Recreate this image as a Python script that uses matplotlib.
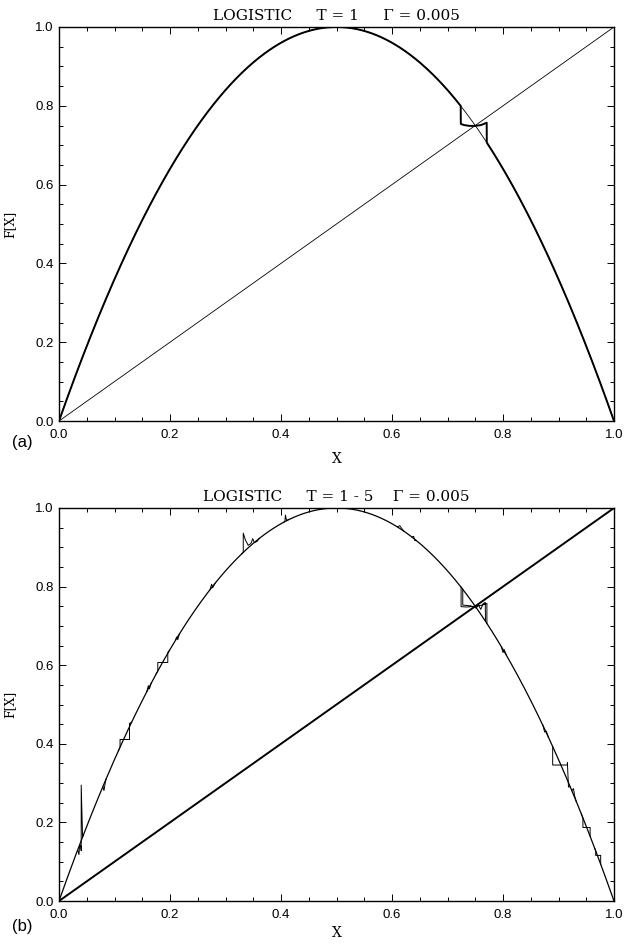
import numpy as np
import matplotlib
matplotlib.use("Agg")
import matplotlib.pyplot as plt
from matplotlib.ticker import MultipleLocator, FormatStrFormatter

# logistic map F[X] = r X (1 - X)
r_logistic = 4.0
x_grid = np.linspace(0.0, 1.0, 801)
f_grid = r_logistic * x_grid * (1.0 - x_grid)

# panel (a): controlled map around the fixed point, T = 1
ctrl_a_x = [0.7238, 0.7240, 0.730, 0.740, 0.750, 0.760, 0.7706, 0.7708]
ctrl_a_y = [0.799, 0.754, 0.751, 0.749, 0.749, 0.751, 0.757, 0.707]

# panel (b): kicks of the controlled maps, T = 1 - 5 (NaN separates pieces)
nan = np.nan
kick_b_x = [0.034, 0.036, 0.037, 0.039, 0.040, 0.040, 0.0425, 0.044, nan,
            0.079, 0.081, 0.083, 0.085, nan,
            0.107, 0.110, 0.110, 0.127, 0.127, 0.131, nan,
            0.158, 0.161, 0.163, 0.166, nan,
            0.175, 0.178, 0.178, 0.196, 0.196, 0.199, nan,
            0.210, 0.212, 0.214, 0.217, nan,
            0.272, 0.275, 0.277, 0.281, nan,
            0.329, 0.332, 0.332, 0.336, 0.341, 0.346, 0.349, 0.352, 0.357, 0.361, nan,
            0.404, 0.407, 0.408, 0.410, 0.414, nan,
            0.610, 0.614, 0.618, 0.622, nan,
            0.636, 0.639, 0.641, 0.644, nan,
            0.7245, 0.7245, 0.735, 0.748, 0.760, 0.771, 0.771, nan,
            0.7275, 0.7275, 0.742, 0.752, 0.755, 0.760, 0.764, 0.768, 0.7685, nan,
            0.797, 0.800, 0.802, 0.806, nan,
            0.872, 0.875, 0.878, 0.882, nan,
            0.8895, 0.8895, 0.916, 0.916, 0.918, 0.921, nan,
            0.924, 0.927, 0.929, 0.932, nan,
            0.941, 0.944, 0.944, 0.957, 0.957, nan,
            0.965, 0.967, 0.967, 0.976, 0.976]
kick_b_y = [0.129, 0.118, 0.140, 0.142, 0.128, 0.295, 0.163, 0.168, nan,
            0.291, 0.281, 0.298, 0.311, nan,
            0.382, 0.392, 0.411, 0.411, 0.452, 0.455, nan,
            0.532, 0.548, 0.540, 0.554, nan,
            0.578, 0.585, 0.607, 0.607, 0.632, 0.638, nan,
            0.664, 0.672, 0.665, 0.680, nan,
            0.792, 0.806, 0.797, 0.808, nan,
            0.883, 0.887, 0.936, 0.918, 0.905, 0.910, 0.922, 0.912, 0.915, 0.923, nan,
            0.963, 0.966, 0.982, 0.968, 0.971, nan,
            0.952, 0.955, 0.947, 0.940, nan,
            0.926, 0.928, 0.917, 0.917, nan,
            0.799, 0.749, 0.748, 0.750, 0.752, 0.757, 0.706, nan,
            0.794, 0.753, 0.751, 0.745, 0.755, 0.742, 0.756, 0.760, 0.713, nan,
            0.647, 0.632, 0.640, 0.626, nan,
            0.447, 0.430, 0.432, 0.416, nan,
            0.393, 0.346, 0.346, 0.352, 0.290, 0.291, nan,
            0.281, 0.286, 0.268, 0.253, nan,
            0.222, 0.211, 0.187, 0.187, 0.165, nan,
            0.135, 0.128, 0.116, 0.116, 0.094]

titles = ["LOGISTIC     T = 1     \u0393 = 0.005",
          "LOGISTIC     T = 1 - 5    \u0393 = 0.005"]
panel_tags = ["(a)", "(b)"]

W, H = 624, 944
fig = plt.figure(figsize=(W / 100, H / 100), dpi=100)
ax_a = fig.add_axes([59 / W, 1 - 421 / H, 555 / W, 394 / H])
ax_b = fig.add_axes([59 / W, 1 - 901 / H, 555 / W, 393 / H])

serif = "DejaVu Serif"
sans = "Liberation Sans"


def style_axes(ax, title, xlab_y):
    ax.set_xlim(0, 1)
    ax.set_ylim(0, 1)
    ax.xaxis.set_major_locator(MultipleLocator(0.2))
    ax.xaxis.set_minor_locator(MultipleLocator(0.05))
    ax.yaxis.set_major_locator(MultipleLocator(0.2))
    ax.yaxis.set_minor_locator(MultipleLocator(0.05))
    ax.xaxis.set_major_formatter(FormatStrFormatter("%.1f"))
    ax.yaxis.set_major_formatter(FormatStrFormatter("%.1f"))
    ax.tick_params(which="both", direction="in", top=True, right=True, width=0.7)
    ax.tick_params(which="major", length=5)
    ax.tick_params(which="minor", length=3.2)
    ax.tick_params(axis="x", pad=6)
    ax.tick_params(axis="y", pad=4)
    for lab in ax.get_xticklabels() + ax.get_yticklabels():
        lab.set_fontfamily(sans)
        lab.set_fontsize(9.5)
    for s in ax.spines.values():
        s.set_linewidth(1.0)
    ax.set_title(title, family=serif, fontsize=11, pad=5)
    ax.set_ylabel("F[X]", family=serif, fontsize=9)
    ax.yaxis.set_label_coords(-0.077, 0.5)
    ax.text(0.5, xlab_y, "X", transform=ax.transAxes, ha="center", va="center",
            family=serif, fontsize=10)


# panel (a)
x_arr = np.asarray(ctrl_a_x)
left = x_grid < x_arr[0]
right = x_grid > x_arr[-1]
ctrl_x = np.concatenate([x_grid[left], x_arr, x_grid[right]])
ctrl_y = np.concatenate([f_grid[left], ctrl_a_y, f_grid[right]])
ax_a.plot(x_grid, f_grid, color="black", lw=0.6)
ax_a.plot(ctrl_x, ctrl_y, color="black", lw=1.4)
ax_a.plot([0, 1], [0, 1], color="black", lw=0.6)
style_axes(ax_a, titles[0], -0.097)

# panel (b)
ax_b.plot(x_grid, f_grid, color="black", lw=0.9)
ax_b.plot(kick_b_x, kick_b_y, color="black", lw=0.7)
ax_b.plot([0, 1], [0, 1], color="black", lw=1.4)
style_axes(ax_b, titles[1], -0.082)

fig.text(22 / W, 1 - 442 / H, panel_tags[0], ha="center", va="center",
         family=sans, fontsize=12)
fig.text(22 / W, 1 - 927 / H, panel_tags[1], ha="center", va="center",
         family=sans, fontsize=12)

fig.savefig("out.png", dpi=100)
